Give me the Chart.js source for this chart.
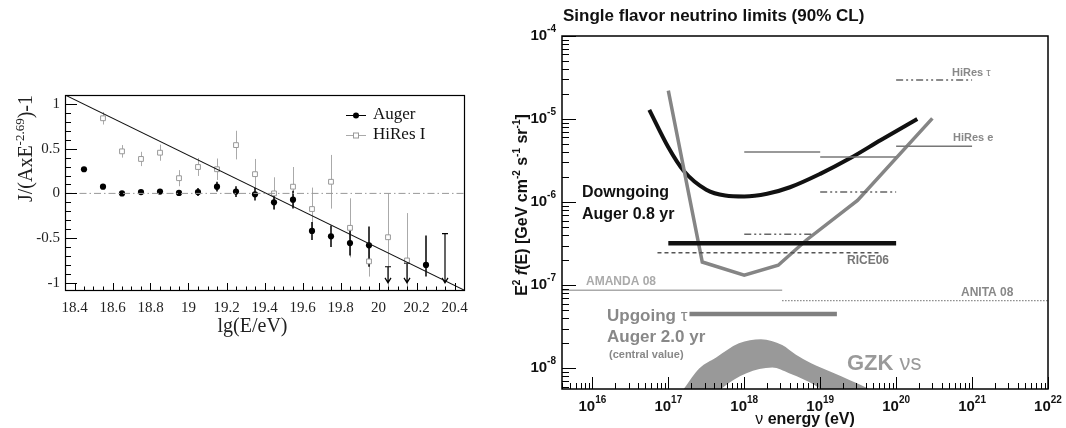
<!DOCTYPE html>
<html>
<head>
<meta charset="utf-8">
<script src="https://cdn.jsdelivr.net/npm/chart.js@4.4.1/dist/chart.umd.min.js"></script>
<style>
  html, body { margin: 0; padding: 0; background: #fff; }
  #wrap { position: relative; width: 1066px; height: 428px; overflow: hidden; }
  #c1 { position: absolute; left: 0; top: 0; }
  #c2 { position: absolute; left: 500px; top: 0; }
</style>
</head>
<body>
<div id="wrap">
  <canvas id="c1" width="500" height="428"></canvas>
  <canvas id="c2" width="566" height="428"></canvas>
</div>
<script>
// ---------- Left panel: flux residuals vs. lg(E/eV) ----------
const augerE    = [18.45, 18.55, 18.65, 18.75, 18.85, 18.95, 19.05, 19.15, 19.25, 19.35, 19.45, 19.55, 19.65, 19.75, 19.85, 19.95, 20.25];
const augerJ    = [0.27, 0.075, 0.0, 0.015, 0.02, 0.005, 0.015, 0.075, 0.02, -0.01, -0.10, -0.07, -0.42, -0.48, -0.555, -0.58, -0.80];
const augerErrHi = [0.01, 0.01, 0.01, 0.01, 0.015, 0.02, 0.045, 0.055, 0.06, 0.07, 0.08, 0.10, 0.10, 0.12, 0.14, 0.21, 0.33];
const augerErrLo = [0.01, 0.01, 0.01, 0.01, 0.015, 0.02, 0.045, 0.055, 0.06, 0.07, 0.08, 0.10, 0.10, 0.12, 0.14, 0.24, 0.13];
// Auger upper limits (drawn as capped arrows)
const augerLimE = [20.05, 20.15, 20.35];
const augerLimJ = [-0.82, -0.78, -0.45];

const hiresE    = [18.55, 18.65, 18.75, 18.85, 18.95, 19.05, 19.15, 19.25, 19.35, 19.45, 19.55, 19.65, 19.75, 19.85, 19.95, 20.05, 20.15];
const hiresJ    = [0.84, 0.47, 0.385, 0.455, 0.17, 0.295, 0.27, 0.54, 0.215, 0.0, 0.075, -0.175, 0.13, -0.385, -0.76, -0.49, -0.75];
const hiresErrHi = [0.07, 0.07, 0.08, 0.09, 0.09, 0.10, 0.12, 0.16, 0.17, 0.18, 0.22, 0.24, 0.30, 0.33, 0.17, 0.49, 0.53];
const hiresErrLo = [0.07, 0.07, 0.08, 0.09, 0.09, 0.10, 0.12, 0.16, 0.17, 0.18, 0.22, 0.24, 0.30, 0.33, 0.17, 0.55, 0.30];

// straight-line reference and zero level
const fitLine  = [{x: 18.35, y: 1.10}, {x: 20.45, y: -1.08}];
const zeroLine = [{x: 18.35, y: 0}, {x: 20.45, y: 0}];

const leftXTicks = ['18.4', '18.6', '18.8', '19', '19.2', '19.4', '19.6', '19.8', '20', '20.2', '20.4'];
const leftYTicks = ['-1', '-0.5', '0', '0.5', '1'];

// ---------- Right panel: single flavour neutrino limits ----------
const downE = [5.62e16, 1e17, 1.58e17, 3.16e17, 5.62e17, 1e18, 2e18, 4e18, 1e19, 2.5e19, 6.3e19, 1.9e20];
const downF = [1.29e-5, 4.57e-6, 2.4e-6, 1.41e-6, 1.2e-6, 1.17e-6, 1.26e-6, 1.51e-6, 2.19e-6, 3.39e-6, 5.6e-6, 1.0e-5];

const upE = [1e17, 2.8e17, 1e18, 2.8e18, 6.6e18, 3.1e19, 3e20];
const upF = [2.2e-5, 1.9e-7, 1.32e-7, 1.74e-7, 3.5e-7, 1.05e-6, 1.02e-5];

// integrated limits: [Emin, Emax, flux]
const downIntegrated = [1e17, 1e20, 3.2e-7];
const upIntegrated   = [1.9e17, 1.66e19, 4.5e-8];
const rice06   = [7.2e16, 6.3e19, 2.45e-7];
const amanda08 = [2e15, 3.16e18, 8.7e-8];
const anita08  = [3.16e18, 1e22, 6.5e-8];
const hiresTau = [[1e18, 8e18, 4.1e-7], [1e19, 1e20, 1.32e-6], [1e20, 1e21, 2.95e-5]];
const hiresEl  = [[1e18, 1e19, 4.0e-6], [1e19, 1e20, 3.5e-6], [1e20, 1e21, 4.7e-6]];

// GZK band edges
const gzkHiE = [1.12e17, 1.62e17, 2.57e17, 4.27e17, 8.5e17, 1.66e18, 3.16e18, 4.8e18, 7.6e18, 1.45e19, 4.2e19, 6.3e19];
const gzkHiF = [3.7e-9, 5.75e-9, 1e-8, 1.35e-8, 2.0e-8, 2.24e-8, 1.9e-8, 1.45e-8, 1.15e-8, 8.9e-9, 5.75e-9, 4.7e-9];
const gzkLoE = [1.12e17, 5.1e17, 1.07e18, 2.34e18, 3.9e18, 9.8e18, 2e19, 6.3e19];
const gzkLoF = [1.26e-9, 5.75e-9, 8.7e-9, 1.02e-8, 8.7e-9, 5.75e-9, 3.2e-9, 1.26e-9];

const rightXExp = [16, 17, 18, 19, 20, 21, 22];
const rightYExp = [-8, -7, -6, -5, -4];

// ---------- helpers ----------
const pts = (xs, ys) => xs.map((x, i) => ({x, y: ys[i]}));
const seg = s => [{x: s[0], y: s[2]}, {x: s[1], y: s[2]}];

function drawRuns(ctx, runs, x, y, align, angle, color) {
  ctx.save();
  ctx.translate(x, y);
  if (angle) ctx.rotate(angle);
  let total = 0;
  for (const r of runs) { ctx.font = r.font; r.w = ctx.measureText(r.text).width; total += r.w; }
  let cx = align === 'center' ? -total / 2 : (align === 'right' ? -total : 0);
  ctx.textAlign = 'left';
  ctx.textBaseline = 'alphabetic';
  for (const r of runs) {
    ctx.font = r.font;
    ctx.fillStyle = r.color || color;
    ctx.fillText(r.text, cx, r.dy || 0);
    cx += r.w;
  }
  ctx.restore();
}

Chart.defaults.animation = false;
Chart.defaults.events = [];

// ---------- left panel decorations: frame, ticks, labels, error bars, legend ----------
const SERIF = '"Liberation Serif", "DejaVu Serif", serif';
const leftDecor = {
  id: 'leftDecor',
  beforeDatasetsDraw(chart) {
    const {ctx, chartArea: a, scales: {x, y}} = chart;
    ctx.save();
    ctx.beginPath();
    ctx.rect(a.left, a.top, a.right - a.left, a.bottom - a.top);
    ctx.clip();
    // HiRes error bars
    ctx.strokeStyle = '#aaa';
    ctx.lineWidth = 1;
    hiresE.forEach((e, i) => {
      const px = Math.round(x.getPixelForValue(e)) + 0.5;
      ctx.beginPath();
      ctx.moveTo(px, y.getPixelForValue(hiresJ[i] + hiresErrHi[i]));
      ctx.lineTo(px, y.getPixelForValue(hiresJ[i] - hiresErrLo[i]));
      ctx.stroke();
    });
    // Auger error bars
    ctx.strokeStyle = '#000';
    ctx.lineWidth = 1.5;
    augerE.forEach((e, i) => {
      const px = x.getPixelForValue(e);
      ctx.beginPath();
      ctx.moveTo(px, y.getPixelForValue(augerJ[i] + augerErrHi[i]));
      ctx.lineTo(px, y.getPixelForValue(augerJ[i] - augerErrLo[i]));
      ctx.stroke();
    });
    // Auger upper limits
    ctx.lineWidth = 1.2;
    augerLimE.forEach((e, i) => {
      const px = x.getPixelForValue(e);
      const top = y.getPixelForValue(augerLimJ[i]);
      const tip = y.getPixelForValue(-1.0);
      ctx.beginPath();
      ctx.moveTo(px - 3, top); ctx.lineTo(px + 3, top);
      ctx.moveTo(px, top); ctx.lineTo(px, tip);
      ctx.moveTo(px - 3, tip - 5); ctx.lineTo(px, tip); ctx.lineTo(px + 3, tip - 5);
      ctx.stroke();
    });
    ctx.restore();
  },
  afterDraw(chart) {
    const {ctx, chartArea: a, scales: {x, y}} = chart;
    ctx.save();
    // frame
    ctx.strokeStyle = '#000';
    ctx.lineWidth = 1.2;
    ctx.strokeRect(Math.round(a.left) + 0.5, Math.round(a.top) + 0.5, Math.round(a.right - a.left), Math.round(a.bottom - a.top));
    // x ticks (inward), major every 0.2, minor every 0.05
    ctx.lineWidth = 1;
    ctx.beginPath();
    for (let k = Math.ceil(x.min / 0.05 - 1e-6); k * 0.05 <= x.max + 1e-6; k++) {
      const px = Math.round(x.getPixelForValue(k * 0.05)) + 0.5;
      const len = (k % 4 === 0) ? 7 : 3.5;
      ctx.moveTo(px, a.bottom); ctx.lineTo(px, a.bottom - len);
    }
    // y ticks (inward), major every 0.5, minor every 0.1
    for (let k = Math.ceil(y.min / 0.1 - 1e-6); k * 0.1 <= y.max + 1e-6; k++) {
      const py = Math.round(y.getPixelForValue(k * 0.1)) + 0.5;
      const len = (k % 5 === 0) ? 12 : 6;
      ctx.moveTo(a.left, py); ctx.lineTo(a.left + len, py);
    }
    ctx.stroke();
    // tick labels
    ctx.fillStyle = '#222';
    ctx.font = '15px ' + SERIF;
    ctx.textAlign = 'center';
    ctx.textBaseline = 'middle';
    leftXTicks.forEach(t => ctx.fillText(t, x.getPixelForValue(parseFloat(t)), a.bottom + 18));
    ctx.textAlign = 'right';
    leftYTicks.forEach(t => ctx.fillText(t, a.left - 5, y.getPixelForValue(parseFloat(t))));
    // axis titles
    ctx.font = '20px ' + SERIF;
    ctx.textAlign = 'center';
    ctx.textBaseline = 'alphabetic';
    ctx.fillText('lg(E/eV)', (a.left + a.right) / 2 - 12, a.bottom + 42);
    drawRuns(ctx, [
      {text: 'J/(AxE', font: '20px ' + SERIF},
      {text: '-2.69', font: '13px ' + SERIF, dy: -8},
      {text: ')-1', font: '20px ' + SERIF}
    ], 32, a.top, 'right', -Math.PI / 2, '#222');
    // legend
    const lx = 346, ly1 = 115, ly2 = 135;
    ctx.lineWidth = 1;
    ctx.strokeStyle = '#000';
    ctx.beginPath(); ctx.moveTo(lx, ly1 + 0.5); ctx.lineTo(lx + 20, ly1 + 0.5); ctx.stroke();
    ctx.fillStyle = '#000';
    ctx.beginPath(); ctx.arc(lx + 10, ly1 + 0.5, 3, 0, Math.PI * 2); ctx.fill();
    ctx.strokeStyle = '#aaa';
    ctx.beginPath(); ctx.moveTo(lx, ly2 + 0.5); ctx.lineTo(lx + 20, ly2 + 0.5); ctx.stroke();
    ctx.fillStyle = '#fff';
    ctx.fillRect(lx + 7.5, ly2 - 2, 5, 5);
    ctx.strokeStyle = '#999';
    ctx.strokeRect(lx + 7.5, ly2 - 2, 5, 5);
    ctx.fillStyle = '#111';
    ctx.font = '17px ' + SERIF;
    ctx.textAlign = 'left';
    ctx.textBaseline = 'middle';
    ctx.fillText('Auger', 373, ly1);
    ctx.fillText('HiRes I', 373, ly2);
    ctx.restore();
  }
};

new Chart(document.getElementById('c1'), {
  type: 'scatter',
  data: {
    datasets: [
      {type: 'line', data: zeroLine, borderColor: '#999', borderWidth: 1, borderDash: [7, 3, 1.5, 3], pointRadius: 0},
      {type: 'line', data: fitLine, borderColor: '#111', borderWidth: 1.1, pointRadius: 0},
      {label: 'HiRes I', data: pts(hiresE, hiresJ), pointStyle: 'rect', pointRadius: 3.4,
       backgroundColor: '#fff', borderColor: '#999', borderWidth: 1},
      {label: 'Auger', data: pts(augerE, augerJ), pointStyle: 'circle', pointRadius: 3.1,
       backgroundColor: '#000', borderColor: '#000', borderWidth: 0}
    ]
  },
  options: {
    responsive: false,
    layout: {padding: {left: 65, right: 36, top: 95, bottom: 138}},
    plugins: {legend: {display: false}, tooltip: {enabled: false}},
    scales: {
      x: {type: 'linear', min: 18.35, max: 20.45, display: false},
      y: {type: 'linear', min: -1.08, max: 1.10, display: false}
    }
  },
  plugins: [leftDecor]
});

// ---------- right panel decorations ----------
const SANS = '"Liberation Sans", Arial, sans-serif';
function powLabel(ctx, exp, x, y, align) {
  ctx.font = 'bold 15px ' + SANS;
  const w1 = ctx.measureText('10').width;
  ctx.font = 'bold 10px ' + SANS;
  const w2 = ctx.measureText(String(exp)).width;
  const x0 = align === 'center' ? x - (w1 + w2) / 2 : x - w1 - w2;
  ctx.textAlign = 'left';
  ctx.textBaseline = 'middle';
  ctx.font = 'bold 15px ' + SANS;
  ctx.fillText('10', x0, y);
  ctx.font = 'bold 10px ' + SANS;
  ctx.fillText(String(exp), x0 + w1, y - 7);
}

const rightDecor = {
  id: 'rightDecor',
  afterDraw(chart) {
    const {ctx, chartArea: a, scales: {x, y}} = chart;
    ctx.save();
    ctx.strokeStyle = '#000';
    ctx.lineWidth = 1.5;
    ctx.strokeRect(a.left, a.top, a.right - a.left, a.bottom - a.top);
    // log ticks, pointing inward
    ctx.lineWidth = 1;
    ctx.beginPath();
    for (let e = 15; e <= 22; e++) {
      for (let m = 1; m <= 9; m++) {
        const v = m * Math.pow(10, e);
        if (v < x.min * 0.999 || v > x.max * 1.001) continue;
        const px = Math.round(x.getPixelForValue(v)) + 0.5;
        const len = m === 1 ? 12 : 6;
        ctx.moveTo(px, a.bottom); ctx.lineTo(px, a.bottom - len);
      }
    }
    for (let e = -9; e <= -4; e++) {
      for (let m = 1; m <= 9; m++) {
        const v = m * Math.pow(10, e);
        if (v < y.min * 0.999 || v > y.max * 1.001) continue;
        const py = Math.round(y.getPixelForValue(v)) + 0.5;
        const len = m === 1 ? 14 : 7;
        ctx.moveTo(a.left, py); ctx.lineTo(a.left + len, py);
      }
    }
    ctx.stroke();
    // tick labels
    ctx.fillStyle = '#111';
    rightXExp.forEach(e => powLabel(ctx, e, x.getPixelForValue(Math.pow(10, e)), a.bottom + 18, 'center'));
    rightYExp.forEach(e => powLabel(ctx, e, a.left - 6, y.getPixelForValue(Math.pow(10, e)), 'right'));
    // titles
    ctx.textAlign = 'left';
    ctx.textBaseline = 'middle';
    ctx.font = 'bold 17px ' + SANS;
    ctx.fillText('Single flavor neutrino limits (90% CL)', a.left + 1, 16);
    drawRuns(ctx, [
      {text: '\u03BD ', font: '16px ' + SANS},
      {text: 'energy (eV)', font: 'bold 16px ' + SANS}
    ], 305, 424, 'center', 0, '#111');
    drawRuns(ctx, [
      {text: 'E', font: 'bold 16px ' + SANS},
      {text: '2', font: 'bold 10px ' + SANS, dy: -7},
      {text: ' ', font: 'bold 16px ' + SANS},
      {text: 'f', font: 'italic bold 16px ' + SANS},
      {text: '(E) [GeV cm', font: 'bold 16px ' + SANS},
      {text: '-2', font: 'bold 10px ' + SANS, dy: -7},
      {text: ' s', font: 'bold 16px ' + SANS},
      {text: '-1', font: 'bold 10px ' + SANS, dy: -7},
      {text: ' sr', font: 'bold 16px ' + SANS},
      {text: '-1', font: 'bold 10px ' + SANS, dy: -7},
      {text: ']', font: 'bold 16px ' + SANS}
    ], 27, 205, 'center', -Math.PI / 2, '#111');
    // curve annotations
    const note = (t, px, py, font, color) => { ctx.font = font; ctx.fillStyle = color; ctx.fillText(t, px, py); };
    note('Downgoing', 82, 193, 'bold 16px ' + SANS, '#111');
    note('Auger 0.8 yr', 82, 215, 'bold 16px ' + SANS, '#111');
    drawRuns(ctx, [
      {text: 'Upgoing ', font: 'bold 17px ' + SANS},
      {text: '\u03C4', font: '17px ' + SANS}
    ], 107, 321, 'left', 0, '#888');
    ctx.textBaseline = 'middle';
    note('Auger 2.0 yr', 107, 337, 'bold 17px ' + SANS, '#888');
    note('(central value)', 109, 355, 'bold 11px ' + SANS, '#888');
    note('AMANDA 08', 86, 282, 'bold 12px ' + SANS, '#aaa');
    note('RICE06', 347, 261, 'bold 12px ' + SANS, '#777');
    note('ANITA 08', 461, 293, 'bold 12px ' + SANS, '#888');
    drawRuns(ctx, [
      {text: 'HiRes ', font: 'bold 11px ' + SANS},
      {text: '\u03C4', font: '11px ' + SANS}
    ], 452, 76, 'left', 0, '#888');
    ctx.textBaseline = 'middle';
    note('HiRes e', 453, 138, 'bold 11px ' + SANS, '#888');
    drawRuns(ctx, [
      {text: 'GZK ', font: 'bold 22px ' + SANS},
      {text: '\u03BDs', font: '22px ' + SANS}
    ], 347, 370, 'left', 0, '#9a9a9a');
    ctx.restore();
  }
};

const flat = (s, color, width, dash) => ({
  type: 'line', data: seg(s), borderColor: color, borderWidth: width,
  borderDash: dash || [], pointRadius: 0, fill: false
});

new Chart(document.getElementById('c2'), {
  type: 'line',
  data: {
    datasets: [
      {data: pts(gzkHiE, gzkHiF), borderWidth: 0, borderColor: 'rgba(0,0,0,0)', backgroundColor: '#999',
       fill: '+1', pointRadius: 0, cubicInterpolationMode: 'monotone'},
      {data: pts(gzkLoE, gzkLoF), borderWidth: 0, borderColor: 'rgba(0,0,0,0)', fill: false, pointRadius: 0,
       cubicInterpolationMode: 'monotone'},
      flat(amanda08, '#aaa', 1.5),
      flat(anita08, '#777', 1.3, [1.3, 1.7]),
      flat(rice06, '#555', 1.5, [4, 3]),
      flat(hiresTau[0], '#666', 1.5, [7, 3, 2, 3, 2, 3]),
      flat(hiresTau[1], '#666', 1.5, [7, 3, 2, 3, 2, 3]),
      flat(hiresTau[2], '#666', 1.5, [7, 3, 2, 3, 2, 3]),
      flat(hiresEl[0], '#777', 1.5),
      flat(hiresEl[1], '#777', 1.5),
      flat(hiresEl[2], '#777', 1.5),
      flat(upIntegrated, '#808080', 4.5),
      flat(downIntegrated, '#111', 4.5),
      {data: pts(upE, upF), borderColor: '#858585', borderWidth: 3.5, pointRadius: 0, fill: false, tension: 0},
      {data: pts(downE, downF), borderColor: '#111', borderWidth: 4, pointRadius: 0, fill: false,
       cubicInterpolationMode: 'monotone'}
    ]
  },
  options: {
    responsive: false,
    layout: {padding: {left: 62, right: 18, top: 36, bottom: 39}},
    plugins: {legend: {display: false}, tooltip: {enabled: false}},
    scales: {
      x: {type: 'logarithmic', min: Math.pow(10, 15.6), max: 1e22, display: false},
      y: {type: 'logarithmic', min: Math.pow(10, -8.25), max: 1e-4, display: false}
    }
  },
  plugins: [rightDecor]
});
</script>
</body>
</html>
